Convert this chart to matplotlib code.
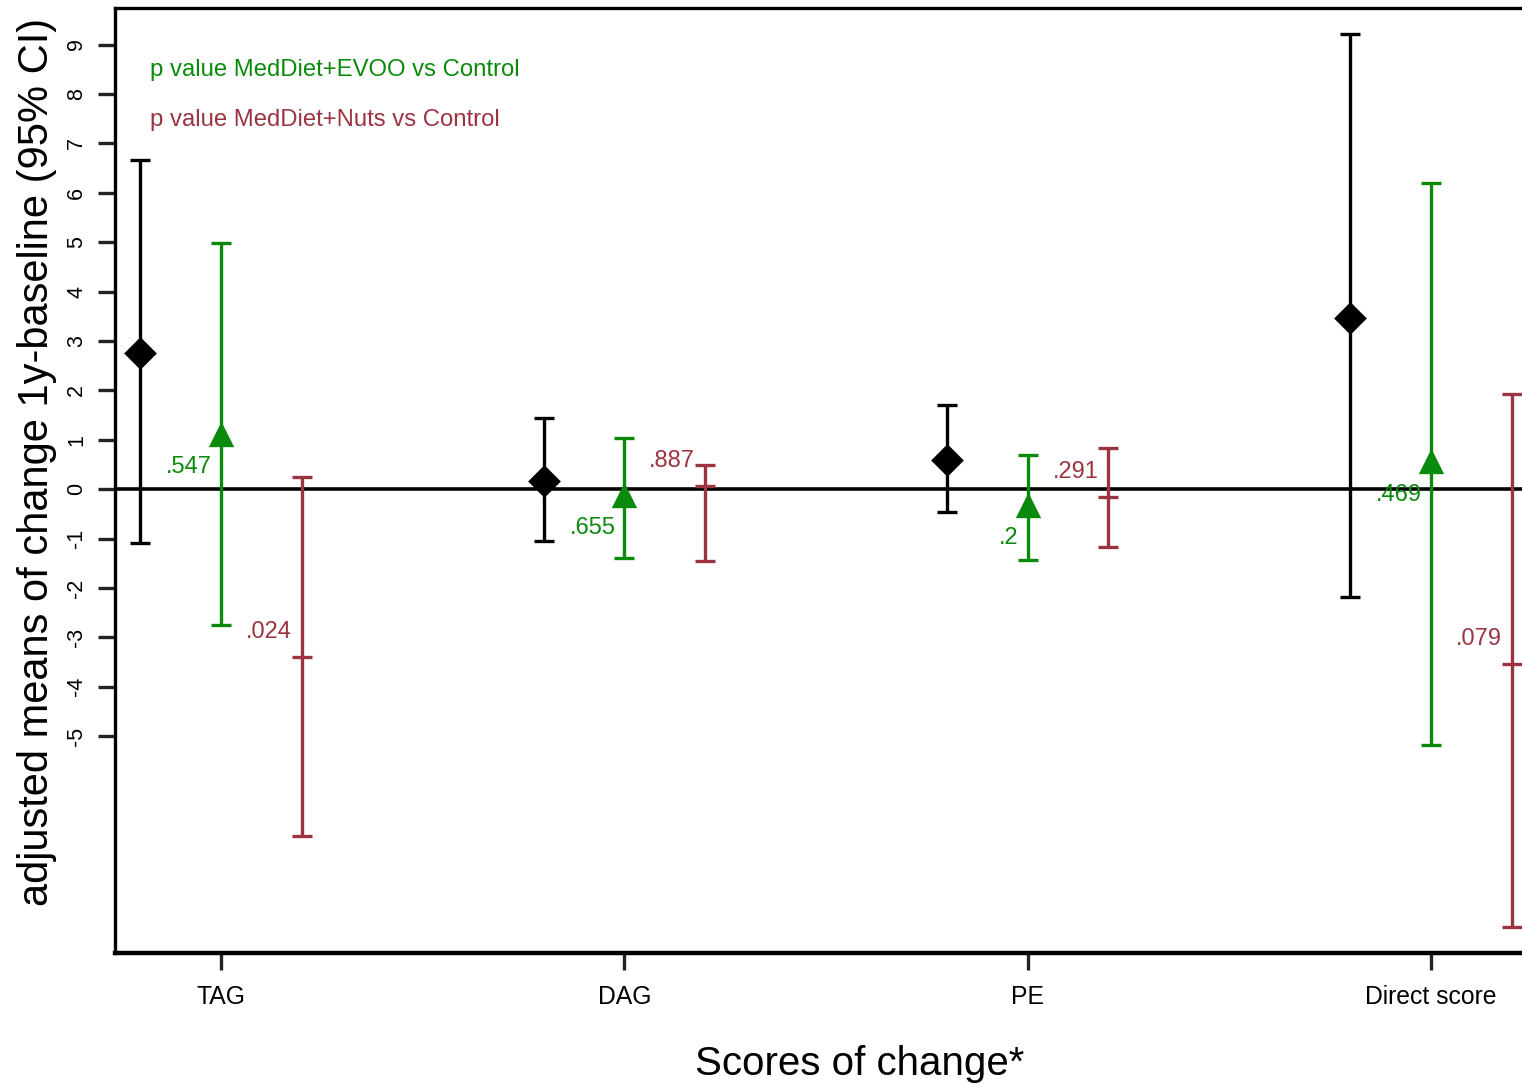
import numpy as np
import matplotlib
matplotlib.use("Agg")
import matplotlib.pyplot as plt

plt.rcParams["font.family"] = ["Liberation Sans", "DejaVu Sans"]

# Scores and group estimates (adjusted mean change, 95% CI)
scores = ["TAG", "DAG", "PE", "Direct score"]

ctrl_mean = [2.75, 0.17, 0.58, 3.47]
ctrl_low = [-1.09, -1.05, -0.46, -2.19]
ctrl_high = [6.66, 1.43, 1.71, 9.21]

evoo_mean = [1.10, -0.14, -0.34, 0.54]
evoo_low = [-2.76, -1.40, -1.44, -5.17]
evoo_high = [4.98, 1.03, 0.70, 6.20]

nuts_mean = [-3.40, 0.07, -0.16, -3.54]
nuts_low = [-7.02, -1.46, -1.17, -8.87]
nuts_high = [0.24, 0.49, 0.84, 1.93]

p_evoo = [".547", ".655", ".2", ".469"]
p_nuts = [".024", ".887", ".291", ".079"]

yticks = [-5, -4, -3, -2, -1, 0, 1, 2, 3, 4, 5, 6, 7, 8, 9]

GREEN = "#0a8a0a"
RED = "#9c3341"


def draw_group(ax, x, mean, low, high, color, marker, ms):
    mean = np.asarray(mean)
    err = [mean - np.asarray(low), np.asarray(high) - mean]
    ax.errorbar(x, mean, yerr=err, fmt="none", ecolor=color, elinewidth=2.4,
                capsize=7.5, capthick=2.4, zorder=3)
    ax.plot(x, mean, linestyle="none", marker=marker, ms=ms, color=color,
            mew=2.4, zorder=4)


fig = plt.figure(figsize=(15.22, 10.89), dpi=100)
ax = fig.add_axes([0.0756, 0.1249, 1 - 0.0756, 0.8678])

x = np.arange(1, len(scores) + 1)
off = 0.2

ax.axhline(0, color="black", lw=2.6, zorder=2)

draw_group(ax, x - off, ctrl_mean, ctrl_low, ctrl_high, "black", "D", 14)
draw_group(ax, x, evoo_mean, evoo_low, evoo_high, GREEN, "^", 15)
draw_group(ax, x + off, nuts_mean, nuts_low, nuts_high, RED, "_", 15)

# p values next to each bar
for i in range(len(scores)):
    ax.text(x[i] - 0.022, evoo_mean[i] - 0.65, p_evoo[i], color=GREEN,
            fontsize=17, ha="right", va="center", zorder=5)
    ax.text(x[i] + off - 0.024, nuts_mean[i] + 0.5, p_nuts[i], color=RED,
            fontsize=17, ha="right", va="center", zorder=5)

ax.text(0.824, 8.48, "p value MedDiet+EVOO vs Control", color=GREEN,
        fontsize=17.2, ha="left", va="center")
ax.text(0.824, 7.47, "p value MedDiet+Nuts vs Control", color=RED,
        fontsize=17.2, ha="left", va="center")

ax.set_xlim(0.737, 4.226)
ax.set_ylim(-9.39, 9.74)

ax.set_xticks(x)
ax.set_xticklabels(scores, fontsize=17.8)
ax.set_yticks(yticks)
ax.set_yticklabels([str(t) for t in yticks], fontsize=15.5, rotation=90,
                   va="center")
ax.tick_params(axis="both", direction="out", length=12, width=2.4, pad=8,
               color="#222222")
ax.tick_params(axis="x", pad=11)

for side in ["left", "top"]:
    ax.spines[side].set_linewidth(2.4)
ax.spines["bottom"].set_linewidth(3.2)
ax.spines["right"].set_visible(False)

ax.set_ylabel("adjusted means of change 1y-baseline (95% CI)", fontsize=30)
ax.yaxis.set_label_coords(-0.041, 0.52)
ax.set_xlabel("Scores of change*", fontsize=29)
ax.xaxis.set_label_coords(0.5295, -0.097)

fig.savefig("out.png", dpi=100)
